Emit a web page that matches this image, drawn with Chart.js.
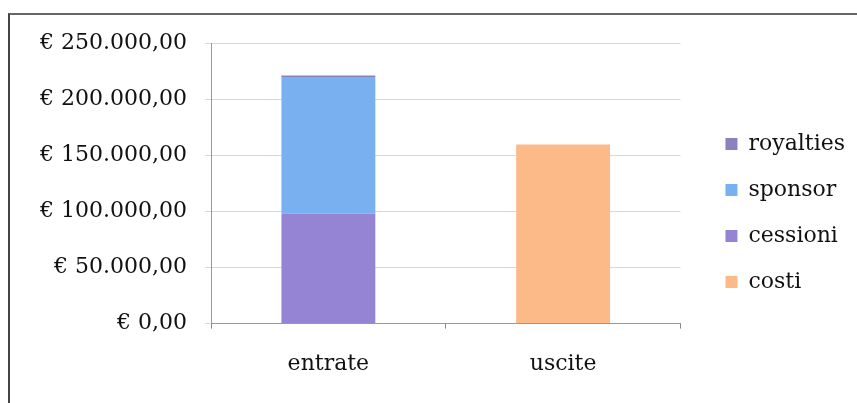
<!DOCTYPE html>
<html>
<head>
<meta charset="utf-8">
<script src="https://cdn.jsdelivr.net/npm/chart.js@4"></script>
<style>
    body { margin: 0; background: #fff; }
    #frame {
        position: absolute; left: 8px; top: 13px; width: 849px; height: 388px;
        border-left: 2px solid #444; border-top: 2px solid #666; border-bottom: 1px solid #ddd;
    }
    #wrap { position: absolute; left: 0; top: 0; width: 857px; height: 403px; }
</style>
</head>
<body>
<div id="frame"></div>
<div id="wrap"><canvas id="chart" width="857" height="403"></canvas></div>
<script>
const categories = ['entrate', 'uscite'];
const cessioni = [98000, null];
const sponsor = [121000, null];
const royalties = [2000, null];
const costi = [null, 159500];
const legendOrder = ['royalties', 'sponsor', 'cessioni', 'costi'];

function euro(v) {
    const s = Math.round(v).toString().replace(/\B(?=(\d{3})+(?!\d))/g, '.');
    return '€ ' + s + ',00';
}

const font = { family: '"DejaVu Serif", "Liberation Serif", serif', size: 22 };
const legendFont = { family: '"DejaVu Serif", "Liberation Serif", serif', size: 22 };

const yWidth = 203;
// empty axes that only keep space free around the plot
const gapRight = 21;
const gapTop = 16;

new Chart(document.getElementById('chart').getContext('2d'), {
    type: 'bar',
    data: {
        labels: categories,
        datasets: [
            { label: 'cessioni', data: cessioni, backgroundColor: '#9583d3' },
            { label: 'sponsor', data: sponsor, backgroundColor: '#78b0f0' },
            { label: 'royalties', data: royalties, backgroundColor: '#8a82bc' },
            { label: 'costi', data: costi, backgroundColor: '#fbba88' }
        ]
    },
    options: {
        responsive: false,
        animation: false,
        barPercentage: 0.4,
        categoryPercentage: 1,
        layout: { padding: { left: 8, top: 27, right: 2, bottom: 4 } },
        plugins: {
            tooltip: { enabled: false },
            legend: {
                position: 'right',
                maxWidth: 220,
                labels: {
                    font: legendFont,
                    color: '#111',
                    boxWidth: 12,
                    boxHeight: 12,
                    padding: 24,
                    sort: (a, b) => legendOrder.indexOf(a.text) - legendOrder.indexOf(b.text)
                }
            }
        },
        scales: {
            x: {
                stacked: true,
                grid: { offset: true, drawOnChartArea: false, drawTicks: true, tickLength: 5, color: '#888' },
                border: { color: '#999' },
                ticks: { font: font, color: '#111', padding: 22 }
            },
            xTop: {
                position: 'top',
                afterFit: (scale) => { scale.height = gapTop; },
                grid: { display: false },
                border: { display: false },
                ticks: { display: false }
            },
            y: {
                stacked: true,
                min: 0,
                max: 250000,
                afterFit: (scale) => { scale.width = yWidth; },
                grid: { color: '#d8d8d8', tickLength: 6 },
                border: { color: '#999' },
                ticks: {
                    stepSize: 50000,
                    font: font,
                    color: '#111',
                    padding: 18,
                    callback: (v) => euro(v)
                }
            },
            yRight: {
                position: 'right',
                min: 0,
                max: 1,
                afterFit: (scale) => { scale.width = gapRight; },
                grid: { display: false },
                border: { display: false },
                ticks: { display: false }
            }
        }
    }
});
</script>
</body>
</html>
